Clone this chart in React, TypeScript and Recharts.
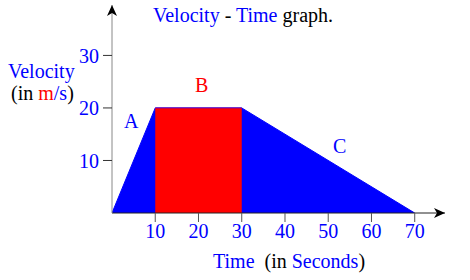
import { Area, ComposedChart, ReferenceDot, XAxis, YAxis } from 'recharts'

const times = [0, 10, 30, 70]
const velocity = [0, 20, 20, 0]
const constantPhase = [null, 20, 20, null]
const xTicks = [10, 20, 30, 40, 50, 60, 70]
const yTicks = [10, 20, 30]

const data = times.map((t, i) => ({ t, v: velocity[i], b: constantPhase[i] }))

const BLUE = '#0000ff'
const RED = '#ff0000'
const FONT = 'Liberation Serif'
const FS = 20

const X_MAX = 77
const Y_MAX = 39.6

const tickStyle = { fill: BLUE, fontSize: FS, fontFamily: FONT }

function UpArrow(props: any) {
  const { cx, cy } = props
  return (
    <path
      d={`M${cx},${cy} L${cx - 5},${cy + 11} L${cx},${cy + 8} L${cx + 5},${cy + 11} Z`}
      fill="#000"
    />
  )
}

function RightArrow(props: any) {
  const { cx, cy } = props
  return (
    <path
      d={`M${cx},${cy} L${cx - 11},${cy - 5} L${cx - 8},${cy} L${cx - 11},${cy + 5} Z`}
      fill="#000"
    />
  )
}

export default function App() {
  return (
    <div style={{ position: 'absolute', left: 0, top: 0, width: 470, height: 280, background: '#fff' }}>
      <ComposedChart width={470} height={280} data={data} margin={{ top: 5, right: 25, bottom: 37, left: 62 }}>
        <XAxis dataKey="t" type="number" domain={[0, X_MAX]} ticks={xTicks} allowDataOverflow stroke="#222"
          tickSize={9} tickMargin={2} tick={tickStyle} tickLine={{ stroke: '#555' }} height={30} />
        <YAxis type="number" domain={[0, Y_MAX]} ticks={yTicks} allowDataOverflow stroke="#888"
          tickSize={9} tickMargin={4} tick={tickStyle} tickLine={{ stroke: '#333' }} width={50} />
        <Area type="linear" dataKey="v" fill={BLUE} fillOpacity={1} stroke={BLUE} isAnimationActive={false} />
        <Area type="linear" dataKey="b" fill={RED} fillOpacity={1} stroke="#7a00a0" isAnimationActive={false} />
        <ReferenceDot x={0} y={Y_MAX} ifOverflow="visible" shape={UpArrow} />
        <ReferenceDot x={X_MAX} y={0} ifOverflow="visible" shape={RightArrow} />
      </ComposedChart>
      <svg width={470} height={280} style={{ position: 'absolute', left: 0, top: 0, pointerEvents: 'none' }}>
        <text x={153} y={22} fontFamily={FONT} fontSize={FS}>
          <tspan fill={BLUE}>Velocity</tspan>
          <tspan fill="#000"> - </tspan>
          <tspan fill={BLUE}>Time</tspan>
          <tspan fill="#000"> graph.</tspan>
        </text>
        <text x={8} y={78} fill={BLUE} fontFamily={FONT} fontSize={FS}>Velocity</text>
        <text x={11} y={100} fontFamily={FONT} fontSize={FS}>
          <tspan fill="#000">(in </tspan>
          <tspan fill={RED}>m</tspan>
          <tspan fill={BLUE}>/s</tspan>
          <tspan fill="#000">)</tspan>
        </text>
        <text x={124} y={128} fill={BLUE} fontFamily={FONT} fontSize={FS}>A</text>
        <text x={195} y={92} fill={RED} fontFamily={FONT} fontSize={FS}>B</text>
        <text x={333} y={153} fill={BLUE} fontFamily={FONT} fontSize={FS}>C</text>
        <text x={213} y={268} fontFamily={FONT} fontSize={FS} style={{ whiteSpace: 'pre' }}>
          <tspan fill={BLUE}>Time</tspan>
          <tspan fill="#000">{'  (in '}</tspan>
          <tspan fill={BLUE}>Seconds</tspan>
          <tspan fill="#000">)</tspan>
        </text>
      </svg>
    </div>
  )
}
